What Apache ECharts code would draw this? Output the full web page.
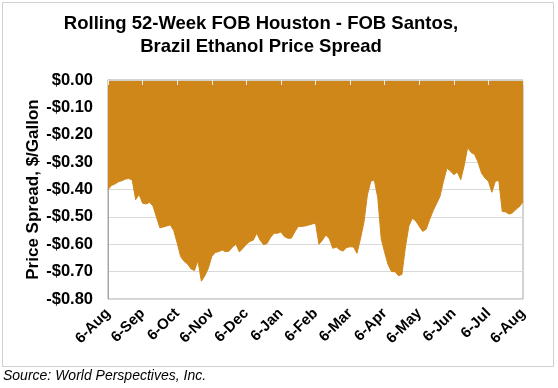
<!DOCTYPE html>
<html>
<head>
<meta charset="utf-8">
<script src="https://cdn.jsdelivr.net/npm/echarts@6/dist/echarts.min.js"></script>
<style>
html,body{margin:0;padding:0;background:#fff;}
#chart{width:558px;height:388px;}
</style>
</head>
<body>
<div id="chart"></div>
<script>
// Month tick labels (one every 10 data points)
const monthLabels = ['6-Aug','6-Sep','6-Oct','6-Nov','6-Dec','6-Jan','6-Feb','6-Mar','6-Apr','6-May','6-Jun','6-Jul','6-Aug'];
const pointsPerMonth = 10;

// Price spread, $/gallon (FOB Houston - FOB Santos)
const spread = [
 -0.400,-0.385,-0.380,-0.372,-0.368,-0.362,-0.360,-0.365,-0.437,-0.418,
 -0.450,-0.453,-0.447,-0.460,-0.500,-0.540,-0.537,-0.533,-0.529,-0.550,
 -0.595,-0.645,-0.662,-0.672,-0.690,-0.696,-0.660,-0.735,-0.715,-0.688,
 -0.645,-0.630,-0.627,-0.621,-0.627,-0.625,-0.610,-0.600,-0.628,-0.615,
 -0.600,-0.590,-0.585,-0.560,-0.585,-0.602,-0.597,-0.575,-0.560,-0.560,
 -0.555,-0.572,-0.578,-0.578,-0.555,-0.535,-0.535,-0.533,-0.530,-0.526,
 -0.523,-0.600,-0.585,-0.566,-0.580,-0.615,-0.610,-0.620,-0.625,-0.612,
 -0.609,-0.610,-0.633,-0.580,-0.520,-0.420,-0.370,-0.365,-0.430,-0.580,
 -0.630,-0.675,-0.700,-0.700,-0.715,-0.710,-0.610,-0.533,-0.505,-0.515,
 -0.535,-0.553,-0.545,-0.510,-0.478,-0.452,-0.425,-0.370,-0.322,-0.332,
 -0.346,-0.336,-0.364,-0.312,-0.247,-0.265,-0.272,-0.300,-0.340,-0.358,
 -0.370,-0.410,-0.370,-0.367,-0.480,-0.482,-0.490,-0.485,-0.472,-0.462,
 -0.444
];

const categories = spread.map((_, i) => String(i));

const chart = echarts.init(document.getElementById('chart'), null, {renderer:'canvas'});
const FONT = '"Liberation Sans", Arial, sans-serif';

chart.setOption({
  animation: false,
  backgroundColor: '#ffffff',
  title: {
    text: 'Rolling 52-Week FOB Houston - FOB Santos,\nBrazil Ethanol Price Spread',
    left: 261,
    top: 13,
    padding: 0,
    textAlign: 'center',
    textStyle: {fontFamily: FONT, fontSize: 18.5, fontWeight: 'bold', color: '#000', lineHeight: 22.5}
  },
  graphic: [
    {type: 'rect', shape: {x: 2.5, y: 2.5, width: 551, height: 364}, style: {fill: 'none', stroke: '#d0d0d0', lineWidth: 1}, z: -1},
    {type: 'text', left: 3, top: 369, style: {text: 'Source: World Perspectives, Inc.', font: 'italic 14px "Liberation Sans", Arial, sans-serif', fill: '#000'}}
  ],
  grid: {left: 108, right: 35, top: 80, bottom: 89, show: true, borderColor: '#a6a6a6', borderWidth: 1, backgroundColor: 'transparent'},
  xAxis: [
    {
      type: 'category', data: categories, boundaryGap: false, position: 'bottom',
      axisLine: {show: true, lineStyle: {color: '#a6a6a6'}},
      axisTick: {show: false},
      axisLabel: {
        interval: pointsPerMonth - 1, rotate: 45, margin: 12,
        fontFamily: FONT, fontSize: 15, fontWeight: 'bold', color: '#000',
        formatter: (v, idx) => monthLabels[Math.round(idx / pointsPerMonth)]
      },
      splitLine: {show: false}
    },
    {
      type: 'category', data: categories, boundaryGap: false, position: 'top', z: 10,
      axisLine: {show: true, lineStyle: {color: '#d0d0d0'}},
      axisTick: {show: true, inside: true, length: 5, interval: pointsPerMonth - 1, lineStyle: {color: '#eeeeee'}},
      axisLabel: {show: false},
      splitLine: {show: false}
    }
  ],
  yAxis: {
    type: 'value', min: -0.8, max: 0, interval: 0.1,
    name: 'Price Spread, $/Gallon', nameLocation: 'middle', nameGap: 66, nameMoveOverlap: false,
    nameTextStyle: {fontFamily: FONT, fontSize: 17, fontWeight: 'bold', color: '#000'},
    axisLine: {show: true, lineStyle: {color: '#a6a6a6'}},
    axisTick: {show: false},
    axisLabel: {
      margin: 15, fontFamily: FONT, fontSize: 16.5, fontWeight: 'bold', color: '#000',
      formatter: v => (Math.abs(v) < 1e-9 ? '$0.00' : (v < 0 ? '-$' : '$') + Math.abs(v).toFixed(2))
    },
    splitLine: {show: true, lineStyle: {color: '#d9d9d9', width: 1}}
  },
  series: [{
    type: 'line', xAxisIndex: 0, data: spread, symbol: 'none',
    lineStyle: {color: '#CF871A', width: 1},
    areaStyle: {color: '#CF871A', opacity: 1},
    z: 2
  }]
});
</script>
</body>
</html>
